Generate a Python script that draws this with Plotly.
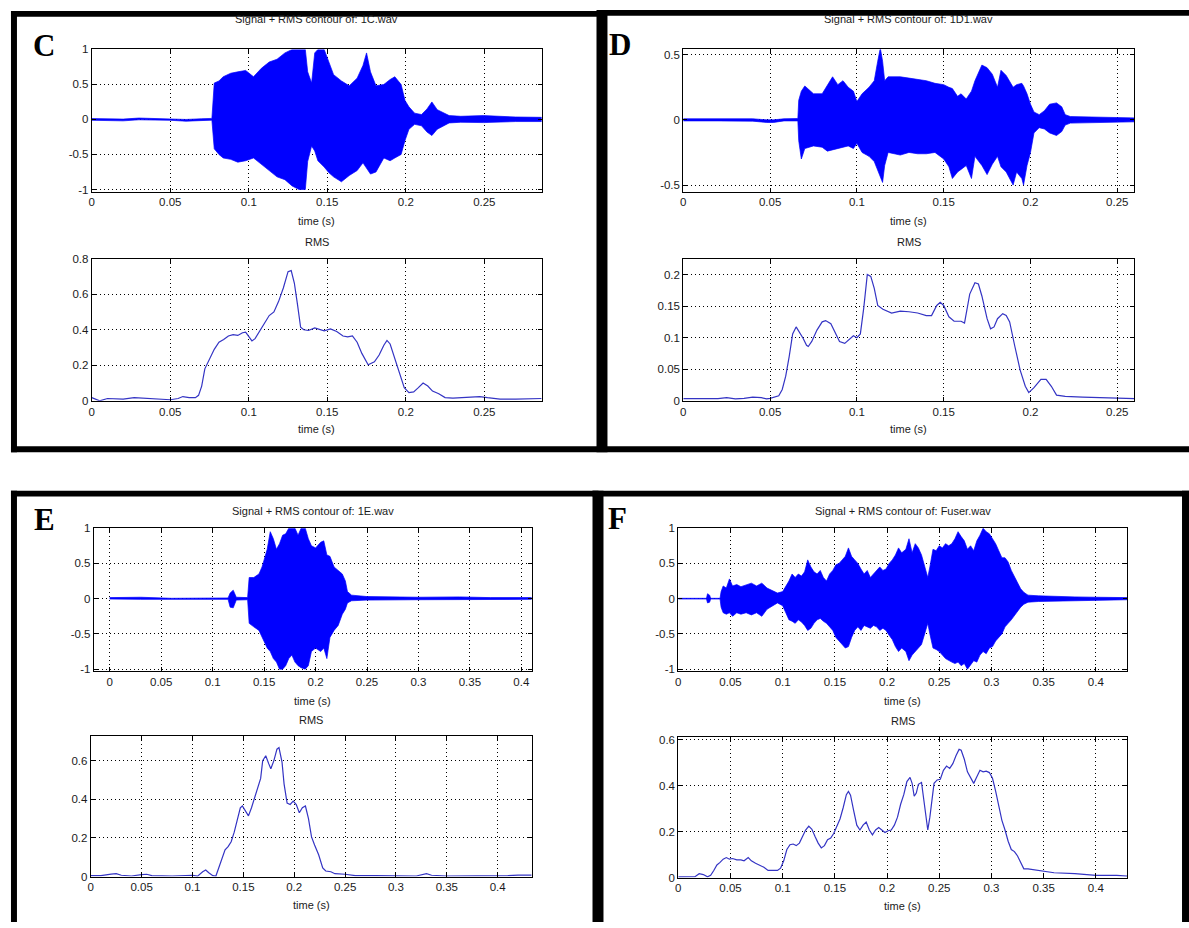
import plotly.graph_objects as go

# ---------------- data ----------------
# Panel C : 1C.wav  (signal envelope: time, upper, lower)
C_sig_t = [0, 0.01, 0.02, 0.03, 0.04, 0.05, 0.06, 0.07, 0.0765, 0.078, 0.081, 0.0837, 0.0885, 0.093, 0.098,
           0.103, 0.108, 0.113, 0.118, 0.123, 0.1276, 0.132, 0.136, 0.1375, 0.14, 0.142, 0.144, 0.148, 0.151,
           0.154, 0.159, 0.164, 0.169, 0.1727, 0.175, 0.1775, 0.181, 0.186, 0.19, 0.193, 0.197, 0.1995, 0.202,
           0.2056, 0.21, 0.2135, 0.2166, 0.22, 0.2276, 0.235, 0.2495, 0.259, 0.27, 0.2865]
C_sig_hi = [0.012, 0.01, 0.005, 0.02, 0.015, 0.012, 0.0, 0.01, 0.015, 0.52, 0.55, 0.61, 0.66, 0.68, 0.70,
            0.61, 0.73, 0.82, 0.86, 0.95, 1.0, 1.0, 1.0, 0.68, 0.52, 0.95, 1.0, 1.0, 0.82,
            0.64, 0.55, 0.48, 0.59, 0.77, 0.95, 0.68, 0.48, 0.50, 0.57, 0.61, 0.50, 0.27, 0.18,
            0.09, 0.07, 0.15, 0.25, 0.14, 0.055, 0.045, 0.055, 0.045, 0.035, 0.03]
C_sig_lo = [-0.012, -0.015, -0.02, -0.005, -0.01, -0.012, -0.025, -0.015, -0.01, -0.42, -0.5, -0.55, -0.57, -0.61, -0.59,
            -0.55, -0.64, -0.73, -0.82, -0.86, -0.95, -1.0, -1.0, -0.6, -0.38, -0.45, -0.59, -0.68, -0.76,
            -0.82, -0.89, -0.80, -0.73, -0.62, -0.70, -0.78, -0.75, -0.55, -0.59, -0.55, -0.50, -0.30, -0.14,
            -0.07, -0.09, -0.18, -0.23, -0.14, -0.05, -0.04, -0.045, -0.035, -0.03, -0.03]
C_rms_t = [0, 0.002, 0.005, 0.01, 0.02, 0.027, 0.035, 0.045, 0.05, 0.055, 0.058, 0.062, 0.066, 0.068, 0.070,
           0.072, 0.075, 0.078, 0.081, 0.084, 0.087, 0.09, 0.093, 0.096, 0.098, 0.1, 0.102, 0.104, 0.107, 0.11,
           0.113, 0.116, 0.119, 0.122, 0.125, 0.127, 0.129, 0.131, 0.133, 0.135, 0.138, 0.142, 0.145, 0.148,
           0.152, 0.156, 0.16, 0.163, 0.166, 0.169, 0.172, 0.176, 0.18, 0.183, 0.186, 0.188, 0.19, 0.193,
           0.196, 0.199, 0.202, 0.205, 0.208, 0.211, 0.214, 0.217, 0.221, 0.225, 0.23, 0.24, 0.247, 0.252,
           0.26, 0.27, 0.28, 0.2865]
C_rms = [0.018, 0.01, 0.0, 0.013, 0.01, 0.018, 0.013, 0.006, 0.006, 0.013, 0.024, 0.018, 0.018, 0.031, 0.083,
         0.18, 0.24, 0.29, 0.33, 0.345, 0.365, 0.372, 0.368, 0.383, 0.387, 0.36, 0.337, 0.35, 0.396, 0.44,
         0.48, 0.50, 0.56, 0.635, 0.727, 0.733, 0.663, 0.543, 0.414, 0.40, 0.396, 0.41, 0.40, 0.394,
         0.405, 0.39, 0.365, 0.36, 0.365, 0.33, 0.267, 0.203, 0.22, 0.258, 0.313, 0.34, 0.32, 0.24,
         0.147, 0.074, 0.046, 0.05, 0.074, 0.10, 0.083, 0.055, 0.04, 0.018, 0.015, 0.018, 0.024, 0.018,
         0.01, 0.01, 0.013, 0.013]

# Panel D : 1D1.wav
D_sig_t = [0, 0.02, 0.04, 0.048, 0.052, 0.058, 0.066, 0.0665, 0.068, 0.07, 0.075, 0.08, 0.083, 0.086, 0.089,
           0.092, 0.095, 0.098, 0.100, 0.103, 0.107, 0.110, 0.112, 0.1135, 0.1148, 0.116, 0.118, 0.125, 0.13,
           0.135, 0.14, 0.145, 0.15, 0.153, 0.155, 0.158, 0.16, 0.163, 0.166, 0.168, 0.169, 0.172, 0.175,
           0.178, 0.181, 0.183, 0.186, 0.19, 0.192, 0.195, 0.196, 0.198, 0.2, 0.202, 0.205, 0.208, 0.211,
           0.215, 0.218, 0.22, 0.223, 0.24, 0.26]
D_sig_hi = [0.008, 0.008, 0.008, 0.0, 0.0, 0.008, 0.01, 0.15, 0.22, 0.26, 0.20, 0.20, 0.27, 0.33, 0.27,
            0.30, 0.25, 0.22, 0.14, 0.20, 0.25, 0.30, 0.45, 0.55, 0.45, 0.30, 0.33, 0.33, 0.32,
            0.31, 0.30, 0.28, 0.27, 0.25, 0.24, 0.18, 0.20, 0.16, 0.22, 0.30, 0.33, 0.42, 0.40,
            0.35, 0.25, 0.38, 0.34, 0.25, 0.27, 0.28, 0.26, 0.20, 0.12, 0.06, 0.04, 0.07, 0.12,
            0.13, 0.10, 0.04, 0.025, 0.02, 0.015]
D_sig_lo = [-0.008, -0.008, -0.01, -0.02, -0.02, -0.008, -0.008, -0.16, -0.30, -0.22, -0.20, -0.21, -0.24, -0.23, -0.22,
            -0.21, -0.20, -0.22, -0.18, -0.25, -0.28, -0.32, -0.38, -0.44, -0.48, -0.35, -0.25, -0.27, -0.25,
            -0.26, -0.26, -0.25, -0.30, -0.36, -0.45, -0.40, -0.38, -0.35, -0.45, -0.28, -0.30, -0.35, -0.42,
            -0.34, -0.28, -0.36, -0.40, -0.50, -0.40, -0.45, -0.50, -0.35, -0.25, -0.10, -0.06, -0.07, -0.10,
            -0.12, -0.09, -0.04, -0.025, -0.02, -0.015]
D_rms_t = [0, 0.02, 0.025, 0.03, 0.035, 0.04, 0.045, 0.048, 0.05, 0.053, 0.055, 0.057, 0.059, 0.061, 0.063,
           0.065, 0.067, 0.069, 0.071, 0.072, 0.074, 0.077, 0.08, 0.082, 0.085, 0.088, 0.09, 0.093, 0.096,
           0.098, 0.1, 0.102, 0.104, 0.106, 0.108, 0.11, 0.112, 0.115, 0.12, 0.125, 0.13, 0.135, 0.14, 0.143,
           0.146, 0.148, 0.15, 0.153, 0.156, 0.16, 0.162, 0.165, 0.168, 0.17, 0.172, 0.175, 0.177, 0.179,
           0.181, 0.184, 0.186, 0.188, 0.191, 0.194, 0.197, 0.199, 0.202, 0.206, 0.209, 0.212, 0.215, 0.22,
           0.23, 0.24, 0.25, 0.26]
D_rms = [0.0036, 0.0036, 0.005, 0.003, 0.004, 0.006, 0.005, 0.003, 0.004, 0.006, 0.008, 0.018, 0.039, 0.07, 0.106,
         0.117, 0.109, 0.099, 0.088, 0.086, 0.094, 0.112, 0.125, 0.127, 0.122, 0.106, 0.094, 0.091, 0.099,
         0.103, 0.10, 0.106, 0.148, 0.20, 0.197, 0.178, 0.151, 0.145, 0.139, 0.142, 0.141, 0.139, 0.135, 0.135,
         0.151, 0.156, 0.151, 0.133, 0.126, 0.126, 0.123, 0.169, 0.187, 0.185, 0.166, 0.13, 0.114, 0.117,
         0.13, 0.138, 0.135, 0.125, 0.086, 0.049, 0.023, 0.013, 0.021, 0.034, 0.034, 0.023, 0.009, 0.007,
         0.006, 0.005, 0.004, 0.0036]

# Panel E : 1E.wav
E_sig_t = [0, 0.03, 0.06, 0.09, 0.115, 0.117, 0.12, 0.123, 0.134, 0.1355, 0.14, 0.145, 0.148, 0.15, 0.153,
           0.156, 0.159, 0.162, 0.165, 0.168, 0.171, 0.174, 0.177, 0.18, 0.183, 0.186, 0.19, 0.193, 0.196,
           0.2, 0.205, 0.208, 0.211, 0.214, 0.218, 0.222, 0.226, 0.229, 0.231, 0.235, 0.25, 0.3, 0.34, 0.37, 0.41]
E_sig_hi = [0.015, 0.02, 0.005, 0.01, 0.01, 0.08, 0.12, 0.02, 0.015, 0.30, 0.30, 0.35, 0.45, 0.55, 0.70,
            0.95, 0.85, 0.70, 0.78, 0.90, 0.92, 1.0, 1.0, 1.0, 0.90, 1.0, 1.0, 0.85, 0.75,
            0.72, 0.80, 0.82, 0.62, 0.60, 0.45, 0.40, 0.35, 0.25, 0.10, 0.05, 0.03, 0.02, 0.025, 0.015, 0.015]
E_sig_lo = [-0.005, -0.01, -0.02, -0.01, -0.01, -0.12, -0.13, -0.02, -0.015, -0.35, -0.40, -0.45, -0.55, -0.60, -0.70,
            -0.75, -0.85, -0.90, -1.0, -1.0, -0.95, -0.85, -0.80, -0.90, -0.95, -0.98, -1.0, -0.95, -0.75,
            -0.70, -0.75, -0.70, -0.85, -0.55, -0.45, -0.38, -0.22, -0.15, -0.06, -0.03, -0.02, -0.015, -0.02, -0.015, -0.01]
E_rms_t = [0, 0.01, 0.02, 0.025, 0.03, 0.04, 0.05, 0.055, 0.06, 0.08, 0.1, 0.105, 0.11, 0.113, 0.116, 0.12,
           0.123, 0.126, 0.129, 0.132, 0.135, 0.138, 0.141, 0.144, 0.147, 0.149, 0.152, 0.155, 0.158, 0.161,
           0.164, 0.167, 0.169, 0.172, 0.175, 0.177, 0.18, 0.183, 0.185, 0.188, 0.19, 0.193, 0.196, 0.199,
           0.202, 0.205, 0.208, 0.211, 0.214, 0.217, 0.22, 0.224, 0.228, 0.231, 0.236, 0.24, 0.25, 0.26,
           0.28, 0.3, 0.32, 0.33, 0.335, 0.35, 0.38, 0.41, 0.42, 0.43, 0.4334]
E_rms = [0.005, 0.005, 0.013, 0.015, 0.007, 0.003, 0.01, 0.012, 0.005, 0.003, 0.007, 0.002, 0.025, 0.034, 0.02, 0.005,
         0.003, 0.045, 0.096, 0.138, 0.155, 0.18, 0.23, 0.30, 0.356, 0.365, 0.34, 0.314, 0.356, 0.407,
         0.449, 0.508, 0.60, 0.625, 0.583, 0.558, 0.60, 0.659, 0.667, 0.592, 0.48, 0.38, 0.373, 0.39,
         0.373, 0.33, 0.356, 0.365, 0.30, 0.205, 0.163, 0.113, 0.045, 0.029, 0.025, 0.015, 0.012, 0.005,
         0.005, 0.005, 0.003, 0.015, 0.007, 0.003, 0.003, 0.005, 0.008, 0.01, 0.008]

# Panel F : Fuser.wav
F_sig_t = [0, 0.027, 0.028, 0.03, 0.031, 0.040, 0.041, 0.043, 0.046, 0.049, 0.052, 0.056, 0.06, 0.065, 0.07,
           0.075, 0.08, 0.085, 0.09, 0.095, 0.1, 0.103, 0.106, 0.109, 0.112, 0.115, 0.118, 0.121, 0.124, 0.127,
           0.13, 0.133, 0.136, 0.139, 0.142, 0.145, 0.148, 0.151, 0.154, 0.157, 0.16, 0.163, 0.166, 0.169,
           0.172, 0.175, 0.178, 0.181, 0.184, 0.187, 0.19, 0.193, 0.196, 0.199, 0.202, 0.205, 0.208, 0.211,
           0.214, 0.218, 0.221, 0.224, 0.227, 0.23, 0.233, 0.236, 0.239, 0.241, 0.244, 0.247, 0.25, 0.253,
           0.256, 0.259, 0.262, 0.265, 0.268, 0.271, 0.274, 0.277, 0.28, 0.283, 0.286, 0.289, 0.292, 0.295,
           0.298, 0.301, 0.304, 0.307, 0.31, 0.313, 0.316, 0.319, 0.322, 0.325, 0.328, 0.331, 0.335, 0.345,
           0.36, 0.38, 0.4, 0.43]
F_sig_hi = [0.005, 0.005, 0.07, 0.05, 0.005, 0.005, 0.10, 0.18, 0.15, 0.28, 0.18, 0.20, 0.17, 0.20, 0.22,
            0.18, 0.22, 0.15, 0.12, 0.08, 0.10, 0.17, 0.25, 0.35, 0.30, 0.35, 0.32, 0.38, 0.55, 0.45,
            0.38, 0.35, 0.40, 0.30, 0.25, 0.35, 0.40, 0.48, 0.50, 0.55, 0.60, 0.72, 0.60, 0.55,
            0.50, 0.42, 0.35, 0.40, 0.30, 0.35, 0.40, 0.45, 0.40, 0.42, 0.50, 0.55, 0.62, 0.72,
            0.65, 0.70, 0.85, 0.65, 0.78, 0.72, 0.62, 0.45, 0.30, 0.45, 0.70, 0.68, 0.75, 0.72,
            0.78, 0.75, 0.78, 0.85, 0.95, 0.88, 0.82, 0.70, 0.75, 0.68, 0.82, 0.90, 1.0, 0.95,
            0.92, 0.85, 0.78, 0.68, 0.58, 0.58, 0.52, 0.40, 0.32, 0.22, 0.14, 0.09, 0.05, 0.04,
            0.03, 0.025, 0.02, 0.015]
F_sig_lo = [-0.005, -0.005, -0.06, -0.05, -0.005, -0.005, -0.12, -0.20, -0.22, -0.20, -0.25, -0.20, -0.22, -0.20, -0.23,
            -0.20, -0.25, -0.15, -0.10, -0.06, -0.10, -0.20, -0.30, -0.32, -0.35, -0.30, -0.33, -0.38, -0.45, -0.42,
            -0.35, -0.30, -0.28, -0.32, -0.35, -0.40, -0.45, -0.55, -0.60, -0.65, -0.70, -0.68, -0.55, -0.45,
            -0.40, -0.45, -0.38, -0.40, -0.42, -0.38, -0.40, -0.45, -0.42, -0.45, -0.52, -0.58, -0.68, -0.75,
            -0.70, -0.75, -0.88, -0.80, -0.75, -0.70, -0.65, -0.50, -0.35, -0.50, -0.70, -0.72, -0.75, -0.80,
            -0.85, -0.88, -0.90, -0.92, -0.90, -0.95, -0.92, -1.0, -0.95, -0.88, -0.90, -0.80, -0.75, -0.78,
            -0.70, -0.68, -0.60, -0.55, -0.50, -0.40, -0.35, -0.30, -0.25, -0.18, -0.12, -0.08, -0.05, -0.04,
            -0.03, -0.025, -0.02, -0.015]
F_rms_t = [0, 0.01, 0.016, 0.02, 0.024, 0.028, 0.031, 0.034, 0.037, 0.04, 0.043, 0.046, 0.049, 0.052, 0.056,
           0.06, 0.063, 0.067, 0.07, 0.074, 0.078, 0.082, 0.086, 0.09, 0.095, 0.098, 0.101, 0.104, 0.107, 0.11,
           0.113, 0.116, 0.119, 0.122, 0.125, 0.128, 0.131, 0.134, 0.137, 0.14, 0.143, 0.146, 0.149, 0.152,
           0.155, 0.158, 0.161, 0.163, 0.165, 0.168, 0.171, 0.174, 0.177, 0.18, 0.183, 0.186, 0.189, 0.192,
           0.195, 0.198, 0.201, 0.204, 0.207, 0.21, 0.213, 0.216, 0.219, 0.222, 0.224, 0.226, 0.228, 0.23,
           0.233, 0.235, 0.237, 0.239, 0.241, 0.243, 0.245, 0.248, 0.251, 0.254, 0.257, 0.26, 0.263, 0.266,
           0.269, 0.271, 0.274, 0.277, 0.28, 0.283, 0.286, 0.289, 0.292, 0.295, 0.298, 0.301, 0.304, 0.307,
           0.31, 0.313, 0.316, 0.319, 0.322, 0.325, 0.328, 0.331, 0.335, 0.34, 0.35, 0.36, 0.38, 0.4, 0.42, 0.43]
F_rms = [0.003, 0.003, 0.004, 0.017, 0.013, 0.003, 0.01, 0.031, 0.055, 0.066, 0.08, 0.087, 0.08, 0.083, 0.077,
         0.077, 0.073, 0.087, 0.073, 0.062, 0.055, 0.045, 0.031, 0.03, 0.031, 0.041, 0.073, 0.122, 0.143, 0.146,
         0.139, 0.15, 0.179, 0.207, 0.224, 0.21, 0.179, 0.15, 0.129, 0.139, 0.165, 0.172, 0.193, 0.221,
         0.256, 0.305, 0.361, 0.375, 0.359, 0.291, 0.228, 0.207, 0.228, 0.242, 0.207, 0.186, 0.207, 0.218,
         0.207, 0.196, 0.204, 0.207, 0.228, 0.263, 0.319, 0.361, 0.418, 0.436, 0.41, 0.354, 0.368, 0.406,
         0.414, 0.347, 0.263, 0.207, 0.263, 0.347, 0.41, 0.425, 0.428, 0.467, 0.485, 0.475, 0.496, 0.53,
         0.558, 0.554, 0.515, 0.46, 0.432, 0.41, 0.439, 0.467, 0.46, 0.463, 0.457, 0.432, 0.376, 0.305,
         0.249, 0.207, 0.158, 0.122, 0.113, 0.094, 0.066, 0.038, 0.038, 0.034, 0.027, 0.021, 0.017, 0.01, 0.01, 0.007]

# titles and tick labels
titles = ["Signal + RMS contour of: 1C.wav", "Signal + RMS contour of: 1D1.wav",
          "Signal + RMS contour of: 1E.wav", "Signal + RMS contour of: Fuser.wav"]
letters = ["C", "D", "E", "F"]
xt_C = [0, 0.05, 0.1, 0.15, 0.2, 0.25]
xt_C_txt = ["0", "0.05", "0.1", "0.15", "0.2", "0.25"]
xt_E = [0, 0.05, 0.1, 0.15, 0.2, 0.25, 0.3, 0.35, 0.4]
xt_E_txt = ["0", "0.05", "0.1", "0.15", "0.2", "0.25", "0.3", "0.35", "0.4"]
yt_sig = [-1, -0.5, 0, 0.5, 1]
yt_sig_txt = ["-1", "-0.5", "0", "0.5", "1"]
yt_sigD = [-0.5, 0, 0.5]
yt_sigD_txt = ["-0.5", "0", "0.5"]
yt_rmsC = [0, 0.2, 0.4, 0.6, 0.8]
yt_rmsC_txt = ["0", "0.2", "0.4", "0.6", "0.8"]
yt_rmsD = [0, 0.05, 0.1, 0.15, 0.2]
yt_rmsD_txt = ["0", "0.05", "0.1", "0.15", "0.2"]
yt_rmsEF = [0, 0.2, 0.4, 0.6]
yt_rmsEF_txt = ["0", "0.2", "0.4", "0.6"]

# ---------------- layout helpers (pixel geometry) ----------------
W, H = 1189, 928
FONT = "Liberation Sans, Arial, sans-serif"
SIG_BLUE = "#0000ff"
RMS_BLUE = "#3434c4"


def xd(x0, x1):
    return [x0 / W, x1 / W]


def yd(y0, y1):
    return [1 - y1 / H, 1 - y0 / H]


# each axis: (pixel box x0,y0,x1,y1), xrange, yrange, xticks, yticks, title gap
axes_spec = [
    ((89, 44, 540, 188), [0, 0.2865], [-1.03, 1.0], (xt_C, xt_C_txt), (yt_sig, yt_sig_txt)),
    ((89, 256, 540, 400), [0, 0.2865], [0, 0.8], (xt_C, xt_C_txt), (yt_rmsC, yt_rmsC_txt)),
    ((682, 44, 1134, 188), [0, 0.2597], [-0.55, 0.54], (xt_C, xt_C_txt), (yt_sigD, yt_sigD_txt)),
    ((682, 256, 1134, 400), [0, 0.2597], [0, 0.225], (xt_C, xt_C_txt), (yt_rmsD, yt_rmsD_txt)),
    ((91, 529, 530, 674), [-0.0155, 0.41], [-1.03, 1.0], (xt_E, xt_E_txt), (yt_sig, yt_sig_txt)),
    ((88, 740, 530, 882), [0, 0.4334], [0, 0.725], (xt_E, xt_E_txt), (yt_rmsEF, yt_rmsEF_txt)),
    ((677, 529, 1127, 674), [0, 0.43], [-1.03, 1.0], (xt_E, xt_E_txt), (yt_sig, yt_sig_txt)),
    ((677, 741, 1127, 883), [0, 0.43], [0, 0.61], (xt_E, xt_E_txt), (yt_rmsEF, yt_rmsEF_txt)),
]
title_gap = [31, 31, 17, 17]

signals = [(C_sig_t, C_sig_hi, C_sig_lo), (D_sig_t, D_sig_hi, D_sig_lo),
           (E_sig_t, E_sig_hi, E_sig_lo), (F_sig_t, F_sig_hi, F_sig_lo)]
rmss = [(C_rms_t, C_rms), (D_rms_t, D_rms), (E_rms_t, E_rms), (F_rms_t, F_rms)]

fig = go.Figure()
layout = dict(width=W, height=H, margin=dict(l=0, r=0, t=0, b=0),
              paper_bgcolor="white", plot_bgcolor="white", showlegend=False)

for i, (box, xr, yr, (xtv, xtt), (ytv, ytt)) in enumerate(axes_spec):
    n = i + 1
    sfx = "" if n == 1 else str(n)
    common = dict(showline=True, linecolor="black", linewidth=1, mirror="ticks",
                  ticks="inside", ticklen=4, tickcolor="black", showgrid=True,
                  gridcolor="black", griddash="1px,3px", gridwidth=1, zeroline=False,
                  tickfont=dict(family=FONT, size=11.5, color="#1a1a1a"), fixedrange=True)
    layout["xaxis" + sfx] = dict(domain=xd(box[0], box[2]), range=xr, anchor="y" + sfx,
                                 tickvals=xtv, ticktext=xtt, **common)
    layout["yaxis" + sfx] = dict(domain=yd(box[1], box[3]), range=yr, anchor="x" + sfx,
                                 tickvals=ytv, ticktext=ytt, **common)

    if i % 2 == 0:
        t, hi, lo = signals[i // 2]
        fig.add_trace(go.Scatter(x=list(t) + list(t)[::-1], y=list(hi) + list(lo)[::-1],
                                 mode="lines", fill="toself", fillcolor=SIG_BLUE,
                                 line=dict(color=SIG_BLUE, width=0.7),
                                 xaxis="x" + sfx, yaxis="y" + sfx, hoverinfo="skip"))
    else:
        t, r = rmss[i // 2]
        fig.add_trace(go.Scatter(x=t, y=r, mode="lines", line=dict(color=RMS_BLUE, width=1.2),
                                 xaxis="x" + sfx, yaxis="y" + sfx, hoverinfo="skip"))

# ---------------- annotations ----------------
ann = []


def txt(x, y, s, size=11, **kw):
    d = dict(x=x / W, y=1 - y / H, xref="paper", yref="paper", text=s, showarrow=False,
             xanchor="center", yanchor="middle",
             font=dict(family=FONT, size=size, color="#1a1a1a"))
    d.update(kw)
    ann.append(d)


for p in range(4):
    top = axes_spec[2 * p][0]
    bot = axes_spec[2 * p + 1][0]
    cx = (top[0] + top[2]) / 2
    cxb = (bot[0] + bot[2]) / 2
    txt(cx, top[1] - title_gap[p], titles[p])
    txt(cx, top[3] + 30, "time (s)")
    txt(cxb, bot[1] - 17, "RMS")
    txt(cxb, bot[3] + 29, "time (s)")

letter_pos = [(28, 40), (606, 39), (29, 520), (605, 519)]
for s, (lx, ly) in zip(letters, letter_pos):
    ann.append(dict(x=lx / W, y=1 - ly / H, xref="paper", yref="paper", text="<b>%s</b>" % s,
                    showarrow=False, xanchor="left", yanchor="middle",
                    font=dict(family="Liberation Serif, Times New Roman, serif", size=31, color="black")))
layout["annotations"] = ann

# ---------------- thick black panel frames ----------------
bars = [
    (8, 5, 601, 11), (600, 4, 1189, 10),          # top edges (C, D)
    (8, 5, 14, 452), (595, 4, 606, 452),          # C left, C/D divider
    (8, 446, 1189, 452),                          # bottom edge C, D
    (8, 491, 597, 497), (591, 491, 1189, 497),    # top edges (E, F)
    (8, 491, 14, 928), (591, 491, 602, 928),      # E left, E/F divider
    (1182, 491, 1189, 928),                       # F right
]
shapes = []
for (x0, y0, x1, y1) in bars:
    shapes.append(dict(type="rect", xref="paper", yref="paper", x0=x0 / W, x1=x1 / W,
                       y0=1 - y1 / H, y1=1 - y0 / H, fillcolor="black",
                       line=dict(width=0), layer="above"))
layout["shapes"] = shapes

fig.update_layout(**layout)
fig.write_html("out.html")
